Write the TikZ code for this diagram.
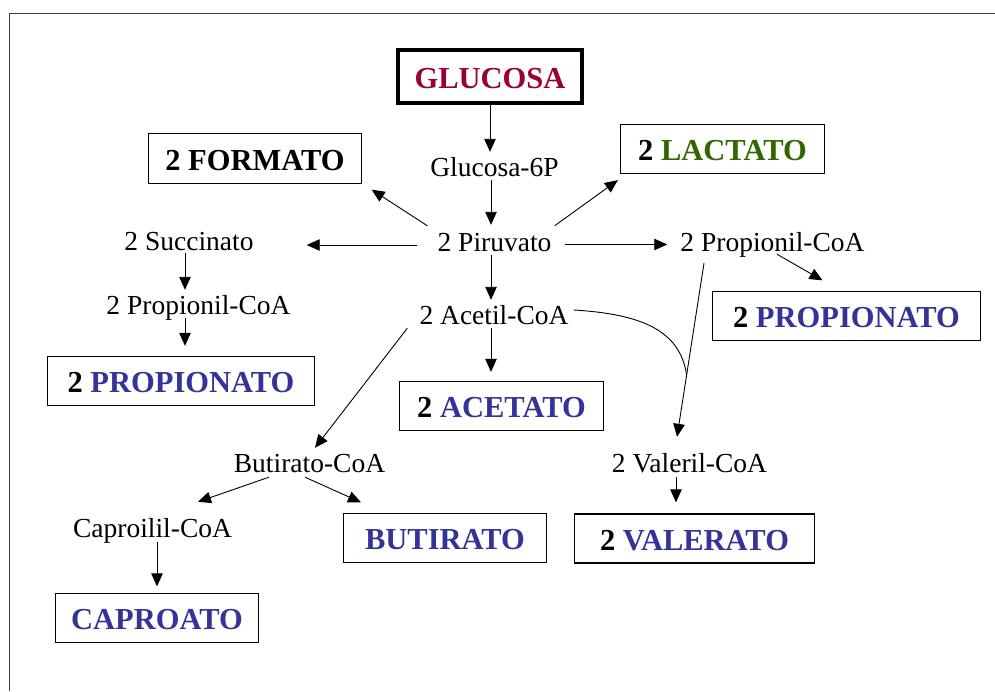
\documentclass[tikz,border=0pt]{standalone}
\usepackage{fontspec}
\setmainfont{Liberation Serif}
\usetikzlibrary{arrows.meta,calc}
\definecolor{glc}{RGB}{153,0,51}
\definecolor{lac}{RGB}{51,102,0}
\definecolor{acid}{RGB}{51,51,153}
\begin{document}
\begin{tikzpicture}[x=1pt,y=-1pt,
  lbl/.style={font=\fontsize{27.5}{30}\selectfont, inner sep=0pt,
              text height=19pt, text depth=4pt, anchor=base},
  prod/.style={draw, line width=1.3pt, font=\fontsize{30.5}{33}\selectfont\bfseries,
               inner sep=0pt, text height=23pt, text depth=0pt, minimum height=49pt},
  arr/.style={line width=0.9pt, -{Triangle[length=13pt,width=11.5pt]}},
  link/.style={line width=0.9pt},
]
\useasboundingbox (0,0) rectangle (995,691);

% page frame
\draw[line width=1pt, black!75] (9,691) -- (9,13) -- (995,13);

% intermediates
\node[lbl] (g6p)    at (494.5,176) {Glucosa-6P};
\node[lbl] (piru)   at (494.5,251) {2 Piruvato};
\node[lbl] (acetil) at (494,324)   {2 Acetil-CoA};
\node[lbl] (succ)   at (189,250)   {2 Succinato};
\node[lbl] (propL)  at (198.5,314) {2 Propionil-CoA};
\node[lbl] (propR)  at (772.5,251) {2 Propionil-CoA};
\node[lbl] (butcoa) at (309.5,472) {Butirato-CoA};
\node[lbl] (capcoa) at (152.5,537) {Caproilil-CoA};
\node[lbl] (valcoa) at (689.5,472) {2 Valeril-CoA};

% substrate and products
\node[prod, line width=4pt, minimum width=184pt, minimum height=53pt, text=glc]
      (glucosa) at (490,76.5) {GLUCOSA};
\node[prod, minimum width=213pt, minimum height=50pt] (formato) at (255,158.5) {2 FORMATO};
\node[prod, minimum width=204pt] (lactato) at (722.5,149) {2 \textcolor{lac}{LACTATO}};
\node[prod, minimum width=267pt] (propionatoL) at (181,381) {2 \textcolor{acid}{PROPIONATO}};
\node[prod, minimum width=268pt] (propionatoR) at (846.5,316) {2 \textcolor{acid}{PROPIONATO}};
\node[prod, minimum width=204pt] (acetato) at (501.5,406) {2 \textcolor{acid}{ACETATO}};
\node[prod, minimum width=203pt, text=acid] (butirato) at (445,538) {BUTIRATO};
\node[prod, minimum width=240pt] (valerato) at (694.5,538.5) {2 \textcolor{acid}{VALERATO}};
\node[prod, minimum width=203pt, text=acid] (caproato) at (157,618) {CAPROATO};

% main trunk
\draw[arr] (glucosa) -- ($(glucosa.south |- g6p.north)+(0,-5)$);
\draw[arr] ($(g6p.south)+(-3.5,0)$) -- ($(piru.north)+(-3.5,-7)$);
\draw[arr] ($(piru.south)+(-3.5,0)$) -- ($(acetil.north)+(-3,-5)$);
\draw[arr] ($(acetil.south)+(-3,0)$) -- ($(acetil.south |- acetato.north)+(-3,-9)$);

% branches from pyruvate
\draw[arr] ($(piru.north west)+(-10,-6)$) -- ($(formato.south east)+(9.5,5.5)$);
\draw[arr] ($(piru.north east)+(3,-6)$) -- ($(lactato.south west)+(-2,6)$);
\draw[arr] ($(piru.west)+(-20,1.5)$) -- ($(succ.east |- piru.west)+(53,1.5)$);
\draw[arr] ($(piru.east)+(13,1)$) -- ($(propR.west)+(-13,1)$);

% succinate route
\draw[arr] ($(succ.south)+(-4,-1)$) -- ($(succ.south |- propL.north)+(-4,-5)$);
\draw[arr] ($(propL.south)+(-13.5,0)$) -- ($(propL.south |- propionatoL.north)+(-13.5,-10)$);

% propionyl-CoA routes
\draw[arr] ($(propR.south)+(4.5,-1)$) -- ($(propionatoR.north)+(-24,-10.5)$);
\coordinate (vtop) at ($(propR.south)+(-68.5,8)$);
\coordinate (vtip) at ($(valcoa.north)+(-12.5,-16)$);
\draw[arr] (vtop) -- (vtip);
\coordinate (merge) at ($(vtop)!0.644!(vtip)$);
\draw[link] ($(acetil.east)+(5,-6.5)$) .. controls +(67,4) and +(-6.6,-45) .. (merge);
\draw[arr] ($(valcoa.south)+(-13.5,1)$) -- ($(valerato.north)+(-18.5,-11)$);

% butyrate route
\draw[arr] ($(acetil.south west)+(-12,0)$) -- ($(butcoa.north)+(5.5,-5)$);
\draw[arr] ($(butcoa.south)+(-40.5,1)$) -- ($(capcoa.north)+(45.5,-16)$);
\draw[arr] ($(butcoa.south)+(-4.5,1)$) -- ($(butirato.north)+(-84,-10.5)$);
\draw[arr] ($(capcoa.south)+(4.5,1)$) -- ($(caproato.north)+(0,-6.5)$);
\end{tikzpicture}
\end{document}
